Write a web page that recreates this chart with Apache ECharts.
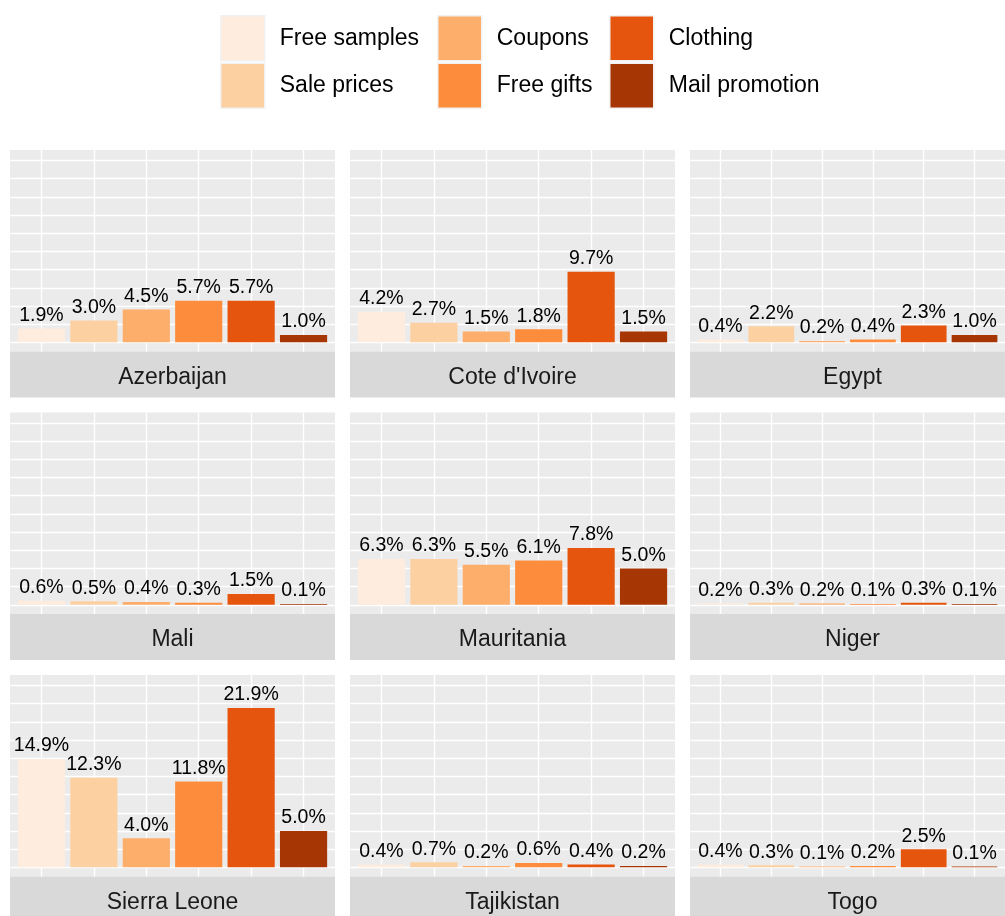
<!DOCTYPE html>
<html>
<head>
<meta charset="utf-8">
<script src="https://cdn.jsdelivr.net/npm/echarts@6/dist/echarts.min.js"></script>
<style>
html,body{margin:0;padding:0;background:#ffffff;}
#chart{width:1005px;height:916px;}
</style>
</head>
<body>
<div id="chart"></div>
<script>
// ---------------- data ----------------
const countries = ["Azerbaijan", "Cote d'Ivoire", "Egypt", "Mali", "Mauritania", "Niger", "Sierra Leone", "Tajikistan", "Togo"];
const promoTypes = ["Free samples", "Sale prices", "Coupons", "Free gifts", "Clothing", "Mail promotion"];
const azerbaijan  = [1.9, 3.0, 4.5, 5.7, 5.7, 1.0];
const coteDIvoire = [4.2, 2.7, 1.5, 1.8, 9.7, 1.5];
const egypt       = [0.4, 2.2, 0.2, 0.4, 2.3, 1.0];
const mali        = [0.6, 0.5, 0.4, 0.3, 1.5, 0.1];
const mauritania  = [6.3, 6.3, 5.5, 6.1, 7.8, 5.0];
const niger       = [0.2, 0.3, 0.2, 0.1, 0.3, 0.1];
const sierraLeone = [14.9, 12.3, 4.0, 11.8, 21.9, 5.0];
const tajikistan  = [0.4, 0.7, 0.2, 0.6, 0.4, 0.2];
const togo        = [0.4, 0.3, 0.1, 0.2, 2.5, 0.1];
const yGridValues = [0, 2.5, 5, 7.5, 10, 12.5, 15, 17.5, 20, 22.5, 25];
const xPositions  = [1, 2, 3, 4, 5, 6];

const countryValues = [azerbaijan, coteDIvoire, egypt, mali, mauritania, niger, sierraLeone, tajikistan, togo];

// ---------------- styling / layout ----------------
const colors = ["#FEEDDE", "#FDD0A2", "#FDAE6B", "#FD8D3C", "#E6550D", "#A63603"];
const FONT = "'Liberation Sans', Arial, sans-serif";
const colLeft = [10, 350, 690];
const rowTop = [150, 412.5, 675];
const panelW = 325;
const panelH = 201.5;
const stripH = 46;
const yMin = -1.26, yMax = 26.44;
const xMin = 0.4, xMax = 6.6;

const grids = [], xAxes = [], yAxes = [], series = [], graphics = [];

countries.forEach((country, p) => {
  const col = p % 3, row = Math.floor(p / 3);
  const left = colLeft[col], top = rowTop[row];
  grids.push({
    left: left, top: top, width: panelW, height: panelH,
    show: true, backgroundColor: '#EBEBEB', borderWidth: 0, containLabel: false
  });
  xAxes.push({
    type: 'value', gridIndex: p, min: xMin, max: xMax,
    axisLine: {show: false}, axisLabel: {show: false},
    axisTick: {show: false, customValues: xPositions},
    splitLine: {show: true, lineStyle: {color: '#FFFFFF', width: 1.4}}
  });
  yAxes.push({
    type: 'value', gridIndex: p, min: yMin, max: yMax,
    axisLine: {show: false}, axisLabel: {show: false},
    axisTick: {show: false, customValues: yGridValues},
    splitLine: {show: true, lineStyle: {color: '#FFFFFF', width: 1.4}}
  });
  promoTypes.forEach((name, t) => {
    series.push({
      type: 'bar', name: name, xAxisIndex: p, yAxisIndex: p,
      data: [[xPositions[t], countryValues[p][t]]],
      barWidth: '90%', barGap: '-100%',
      itemStyle: {color: colors[t]},
      label: {
        show: true, position: 'top', distance: 3,
        color: '#000000', fontFamily: FONT, fontSize: 19.5,
        formatter: (prm) => prm.value[1].toFixed(1) + '%'
      },
      animation: false
    });
  });
  graphics.push({
    type: 'rect', silent: true,
    shape: {x: left, y: top + panelH, width: panelW, height: stripH},
    style: {fill: '#D9D9D9'}
  });
  graphics.push({
    type: 'text', silent: true,
    x: left + panelW / 2, y: top + panelH + stripH / 2 + 3,
    style: {text: country, fill: '#1A1A1A', font: '23px ' + FONT, textAlign: 'center', textVerticalAlign: 'middle'}
  });
});

function makeLegend(names, left) {
  return {
    orient: 'vertical', left: left, top: 15, itemGap: 1, padding: 0,
    itemWidth: 44, itemHeight: 45, icon: 'rect',
    selectedMode: false,
    itemStyle: {borderColor: '#F2F2F2', borderWidth: 1.5},
    textStyle: {color: '#000000', fontFamily: FONT, fontSize: 23, padding: [0, 0, 0, 10]},
    data: names
  };
}

const chart = echarts.init(document.getElementById('chart'), null, {renderer: 'canvas'});
chart.setOption({
  animation: false,
  color: colors,
  legend: [
    makeLegend([promoTypes[0], promoTypes[1]], 220),
    makeLegend([promoTypes[2], promoTypes[3]], 437),
    makeLegend([promoTypes[4], promoTypes[5]], 609)
  ],
  grid: grids,
  xAxis: xAxes,
  yAxis: yAxes,
  series: series,
  graphic: graphics
});
</script>
</body>
</html>
